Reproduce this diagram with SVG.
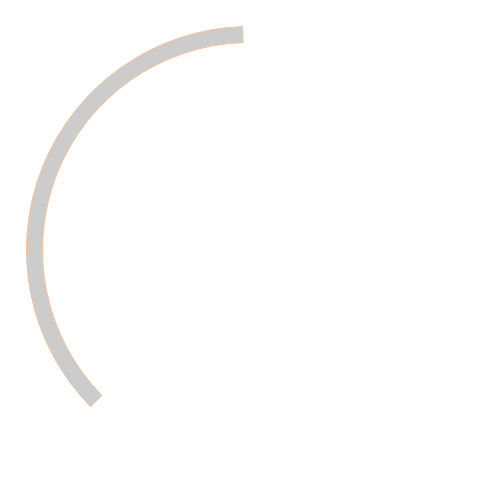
<svg xmlns="http://www.w3.org/2000/svg" width="500" height="500" viewBox="0 0 500 500">
<style>
.arc{fill:#cccccc;stroke:#f6c39c;stroke-width:1}
</style>
<rect width="500" height="500" fill="#ffffff"/>
<g id="arc">
<path class="arc" d="M90.58,406.65 A223.5,223.5 0 0 1 242.58,26.62 L243.11,42.61 A207.5,207.5 0 0 0 101.99,395.44 Z"/>
</g>
</svg>
